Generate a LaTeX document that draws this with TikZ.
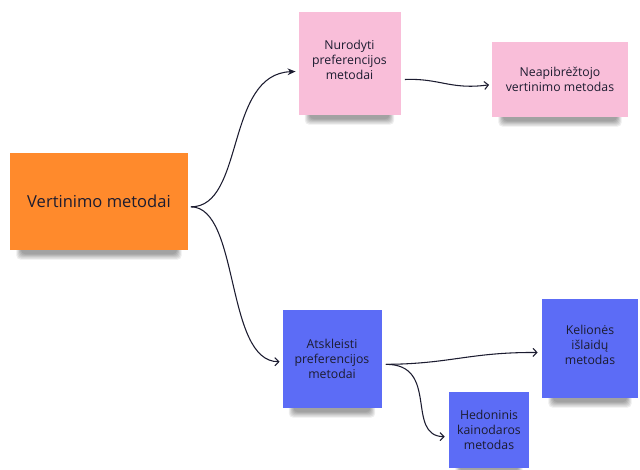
\documentclass[tikz,border=0pt]{standalone}
\usepackage{fontspec}
\setmainfont{Open Sans}
\usetikzlibrary{arrows.meta,backgrounds}
\definecolor{noteorange}{HTML}{FF8A2C}
\definecolor{notepink}{HTML}{F9BED9}
\definecolor{noteblue}{HTML}{5C6CF6}
\definecolor{inkdark}{HTML}{1C1C30}
\tikzset{
  note/.style={inner sep=0pt,align=center,text=inkdark,
    font=\fontsize{9.2}{11.3}\selectfont},
  noteshadow/.style={fill=black,opacity=0.07,rounded corners=3pt},
  link/.style={draw=inkdark,line width=0.8pt,
    -{Straight Barb[length=3pt,width=6pt]}},
}
\begin{document}
\begin{tikzpicture}[x=0.75pt,y=-0.75pt]
  \useasboundingbox (0,0) rectangle (640,469);
  \node[note,fill=noteorange,minimum width=133.5pt,minimum height=72.75pt,
    font=\fontsize{12.4}{14}\selectfont] (vert) at (99,201.5)
    {Vertinimo metodai};
  \node[note,fill=notepink,minimum width=76.5pt,minimum height=77.25pt]
    (nurod) at (349.5,63.5) {Nurodyti\\preferencijos\\metodai\\[-6pt]};
  \node[note,fill=notepink,minimum width=102pt,minimum height=56.25pt]
    (neapib) at (560,79.5) {Neapibrėžtojo\\vertinimo metodas};
  \node[note,fill=noteblue,minimum width=74.25pt,minimum height=73.5pt]
    (atskl) at (332,359) {Atskleisti\\preferencijos\\metodai};
  \node[note,fill=noteblue,minimum width=72pt,minimum height=74.25pt]
    (kelion) at (590,348.5) {Kelionės\\išlaidų\\metodas\\[-6pt]};
  \node[note,fill=noteblue,minimum width=60pt,minimum height=57pt]
    (hedon) at (489,430) {Hedoninis\\kainodaros\\metodas};
  % seselis po lapeliais
  \begin{pgfonlayer}{background}
    \fill[white] (0,0) rectangle (640,469);
    \foreach \n in {vert,nurod,neapib,atskl,kelion,hedon}
      \foreach \k in {0,...,5}
        \fill[noteshadow]
          ([xshift=5pt+\k*0.7pt,yshift=3pt+\k*0.4pt]\n.south west)
          rectangle ([xshift=-5pt-\k*0.7pt,yshift=-7pt+\k*0.8pt]\n.south east);
  \end{pgfonlayer}
  % jungtys
  \draw[draw=inkdark,line width=0.8pt,-{Stealth[length=6pt,width=5pt]}]
    ([xshift=2pt,yshift=-4pt]vert.east)
    .. controls (245,207) and (225,74) .. ([xshift=-2pt,yshift=-6pt]nurod.west);
  \draw[link] ([xshift=2pt,yshift=-4pt]vert.east)
    .. controls (240,207) and (225,362) .. ([xshift=-2pt,yshift=-2pt]atskl.west);
  \draw[link] ([xshift=3pt,yshift=-12pt]nurod.east)
    .. controls (440,78) and (450,90) .. ([xshift=-2pt,yshift=-4pt]neapib.west);
  \draw[link] ([xshift=3pt,yshift=-4pt]atskl.east)
    .. controls (450,364) and (470,352) .. ([xshift=-3pt,yshift=-3pt]kelion.west);
  \draw[link] ([xshift=3pt,yshift=-4pt]atskl.east)
    .. controls (440,364) and (405,436) .. ([xshift=-3pt,yshift=-5pt]hedon.west);
\end{tikzpicture}
\end{document}
